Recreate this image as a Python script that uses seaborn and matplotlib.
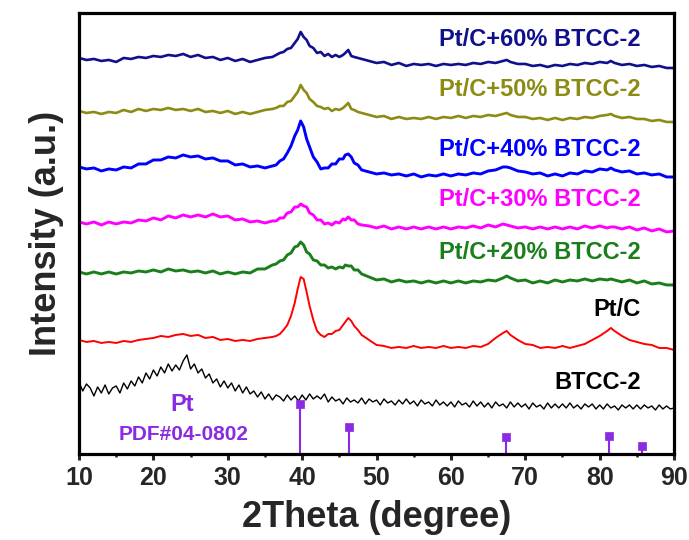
"""
XRD patterns of Pt/C catalysts with increasing BTCC-2 loading,
stacked with offsets, plus the Pt reference pattern (PDF#04-0802).
"""

import matplotlib
matplotlib.use("Agg")          # no display available
import matplotlib.pyplot as plt
from matplotlib.ticker import MultipleLocator
import seaborn as sns

# ── Style defaults ─────────────────────────────────────────────────────────────
sns.set_theme(style="ticks")
plt.rcParams["font.family"] = ["Liberation Sans", "DejaVu Sans"]
plt.rcParams["font.weight"] = "bold"

# ── Data (offset intensities, a.u.) ───────────────────────────────────────────
two_theta = [
    10, 11, 12, 13, 14, 15, 16, 17, 18, 19, 20, 21, 22, 23, 24, 25, 26, 27, 28, 29,
    30, 31, 32, 33, 34, 35, 36,
    36.5, 37, 37.5, 38, 38.5, 39, 39.4, 39.8, 40.2, 40.6, 41, 41.5, 42, 42.5, 43,
    43.5, 44, 44.5, 45, 45.5, 45.8, 46.2, 46.6, 47, 47.5, 48,
    49, 50, 51, 52, 53, 54, 55, 56, 57, 58, 59, 60, 61, 62, 63, 64, 65, 66, 67,
    67.5,
    68, 69, 70, 71, 72, 73, 74, 75, 76, 77, 78, 79, 80, 81,
    81.5,
    82, 83, 84, 85, 86, 87, 88, 89, 90,
]

pt_c_60 = [
    396, 394, 395, 393, 394, 392, 396, 395, 397, 396, 398, 397, 399, 398, 400, 397, 399, 396, 397, 394,
    396, 393, 395, 392, 394, 396, 397,
    399, 401, 402, 405, 406, 411, 415, 422, 417, 414, 408, 406, 401, 402, 398, 400, 397, 399, 397, 399,
    401, 404, 398, 397, 396, 395,
    393, 391, 392, 389, 391, 388, 390, 389, 390, 388, 390, 389, 390, 389, 391, 390, 392, 391, 393,
    394,
    392, 390, 390, 388, 389, 387, 389, 388, 390, 389, 391, 390, 392, 391,
    393,
    391, 389, 390, 388, 389, 387, 388, 386, 386,
]

pt_c_50 = [
    343, 341, 342, 340, 342, 341, 344, 342, 345, 343, 345, 344, 346, 344, 345, 343, 345, 342, 343, 341,
    343, 340, 342, 340, 342, 344, 345,
    346, 348, 348, 352, 353, 358, 362, 369, 364, 361, 355, 352, 348, 347, 345, 346, 343, 345, 344, 346,
    348, 351, 345, 344, 342, 341,
    339, 337, 338, 335, 337, 335, 336, 335, 337, 335, 337, 336, 338, 336, 338, 337, 339, 338, 340,
    341,
    339, 337, 337, 335, 336, 334, 336, 334, 336, 335, 337, 336, 338, 339,
    340,
    338, 336, 337, 335, 335, 333, 334, 332, 332,
]

pt_c_40 = [
    287, 285, 286, 283, 285, 284, 287, 286, 290, 290, 294, 294, 297, 296, 299, 297, 298, 295, 296, 293,
    293, 289, 290, 287, 288, 286, 288,
    289, 293, 295, 301, 308, 318, 324, 333, 327, 315, 307, 297, 292, 285, 286, 286, 290, 290, 295, 295,
    299, 300, 297, 291, 289, 284,
    282, 280, 281, 279, 280, 278, 280, 277, 279, 278, 280, 278, 280, 279, 281, 280, 283, 284, 287,
    287,
    286, 283, 282, 280, 281, 278, 280, 278, 281, 280, 283, 282, 285, 284,
    286,
    284, 282, 283, 280, 281, 279, 280, 277, 277,
]

pt_c_30 = [
    232, 230, 232, 229, 232, 230, 232, 231, 234, 233, 236, 234, 238, 236, 239, 237, 239, 237, 240, 237,
    238, 234, 235, 232, 233, 231, 233,
    233, 236, 236, 241, 242, 247, 247, 250, 248, 247, 241, 239, 234, 234, 230, 231, 229, 232, 231, 235,
    234, 237, 234, 234, 230, 229,
    228, 226, 228, 225, 227, 225, 227, 225, 227, 225, 227, 225, 227, 226, 228, 226, 229, 227, 230,
    229,
    228, 226, 227, 225, 227, 225, 227, 225, 227, 225, 228, 226, 228, 226,
    227,
    227, 225, 227, 224, 226, 223, 225, 222, 223,
]

pt_c_20 = [
    182, 180, 182, 180, 182, 180, 182, 181, 183, 182, 184, 182, 185, 183, 184, 182, 183, 181, 183, 180,
    182, 180, 182, 181, 185, 185, 189,
    190, 193, 194, 199, 201, 207, 208, 212, 209, 202, 200, 194, 193, 189, 189, 186, 187, 185, 187, 186,
    189, 188, 188, 184, 184, 180,
    177, 174, 175, 172, 174, 172, 173, 171, 173, 171, 173, 171, 173, 171, 173, 172, 174, 173, 176,
    178,
    176, 173, 174, 171, 173, 171, 174, 172, 174, 173, 175, 173, 175, 174,
    175,
    174, 172, 174, 171, 173, 170, 171, 169, 169,
]

pt_c = [
    114, 112, 113, 111, 112, 111, 113, 112, 114, 115, 116, 118, 117, 119, 120, 118, 119, 116, 117, 114,
    115, 113, 114, 113, 115, 116, 117,
    118, 120, 124, 129, 138, 151, 165, 177, 175, 162, 148, 134, 123, 119, 117, 120, 120, 123, 124, 129,
    132, 136, 133, 128, 124, 119,
    114, 109, 108, 106, 107, 106, 108, 106, 107, 106, 108, 106, 107, 106, 108, 107, 110, 116, 121,
    123,
    119, 114, 110, 109, 106, 107, 106, 108, 106, 108, 110, 114, 118, 123,
    126,
    123, 118, 114, 112, 110, 109, 106, 106, 104,
]

# BTCC-2 was scanned on a finer grid (noisier amorphous pattern)
btcc_theta = [
    10, 10.5, 11, 11.5, 12, 12.5, 13, 13.5, 14, 14.5,
    15, 15.5, 16, 16.5, 17, 17.5, 18, 18.5, 19, 19.5,
    20, 20.5, 21, 21.5, 22, 22.5, 23, 23.5, 24, 24.5,
    25, 25.5, 26, 26.5, 27, 27.5, 28, 28.5, 29, 29.5,
    30, 30.5, 31, 31.5, 32, 32.5, 33, 33.5, 34, 34.5,
    35, 35.5, 36, 36.5, 37, 37.5, 38, 38.5, 39, 39.5,
    40, 40.5, 41, 41.5, 42, 42.5, 43, 43.5, 44, 44.5,
    45, 45.5, 46, 46.5, 47, 47.5, 48, 48.5, 49, 49.5,
    50, 50.5, 51, 51.5, 52, 52.5, 53, 53.5, 54, 54.5,
    55, 55.5, 56, 56.5, 57, 57.5, 58, 58.5, 59, 59.5,
    60, 60.5, 61, 61.5, 62, 62.5, 63, 63.5, 64, 64.5,
    65, 65.5, 66, 66.5, 67, 67.5, 68, 68.5, 69, 69.5,
    70, 70.5, 71, 71.5, 72, 72.5, 73, 73.5, 74, 74.5,
    75, 75.5, 76, 76.5, 77, 77.5, 78, 78.5, 79, 79.5,
    80, 80.5, 81, 81.5, 82, 82.5, 83, 83.5, 84, 84.5,
    85, 85.5, 86, 86.5, 87, 87.5, 88, 88.5, 89, 89.5,
    90,
]

btcc_2 = [
    72, 63, 70, 66, 58, 67, 61, 69, 60, 66,
    68, 61, 71, 65, 73, 68, 77, 71, 81, 75,
    84, 78, 87, 81, 90, 83, 89, 84, 93, 99,
    85, 90, 81, 85, 76, 80, 71, 75, 67, 73,
    66, 71, 63, 69, 61, 67, 60, 63, 57, 62,
    55, 60, 54, 59, 57, 53, 59, 54, 58, 53,
    59, 54, 60, 55, 58, 55, 60, 52, 57, 53,
    55, 50, 56, 52, 54, 51, 56, 50, 55, 52,
    54, 49, 55, 51, 53, 49, 54, 50, 55, 50,
    53, 48, 54, 50, 52, 48, 54, 49, 52, 48,
    52, 47, 53, 49, 51, 47, 53, 48, 52, 47,
    51, 46, 52, 48, 50, 46, 52, 47, 51, 47,
    50, 45, 51, 47, 49, 45, 51, 46, 50, 46,
    50, 46, 51, 46, 49, 45, 50, 47, 50, 45,
    49, 45, 50, 46, 48, 44, 49, 46, 49, 45,
    49, 45, 49, 46, 48, 44, 49, 45, 48, 45,
    46,
]

# Pt reference, PDF#04-0802 (stick heights in plot units)
pdf_theta = [39.76, 46.24, 67.45, 81.29, 85.71]
pdf_height = [50, 27, 17, 18, 8]

PDF_COLOR = "#8a2be2"

# (label, x, y, colour, linewidth, label height)
series = [
    ("Pt/C+60% BTCC-2", two_theta, pt_c_60, "#10108c", 1.9, 414),
    ("Pt/C+50% BTCC-2", two_theta, pt_c_50, "#8c8c14", 1.9, 364),
    ("Pt/C+40% BTCC-2", two_theta, pt_c_40, "#0000ff", 2.1, 304),
    ("Pt/C+30% BTCC-2", two_theta, pt_c_30, "#ff00ff", 2.1, 254),
    ("Pt/C+20% BTCC-2", two_theta, pt_c_20, "#1a7f1a", 2.1, 201),
    ("Pt/C", two_theta, pt_c, "#ff0000", 1.4, 144),
    ("BTCC-2", btcc_theta, btcc_2, "#000000", 1.0, 71),
]

# ── Figure ─────────────────────────────────────────────────────────────────────
fig = plt.figure(figsize=(6.89, 5.40), dpi=100)
ax = fig.add_axes([0.1147, 0.1593, 0.8636, 0.8167])

for label, x, y, color, lw, label_y in series:
    sns.lineplot(x=x, y=y, color=color, linewidth=lw, estimator=None,
                 sort=False, ax=ax)
    text_color = "black" if label in ("Pt/C", "BTCC-2") else color
    ax.text(85.5, label_y, label, color=text_color, fontsize=17,
            fontweight="bold", ha="right", va="center")

# reference sticks with square caps
ax.vlines(pdf_theta, 0, pdf_height, color=PDF_COLOR, linewidth=1.5)
sns.scatterplot(x=pdf_theta, y=pdf_height, marker="s", s=38, color=PDF_COLOR,
                edgecolor=PDF_COLOR, linewidth=0.5, ax=ax, zorder=5)
ax.text(23.9, 49, "Pt", color=PDF_COLOR, fontsize=17, fontweight="bold",
        ha="center", va="center")
ax.text(24.0, 19, "PDF#04-0802", color=PDF_COLOR, fontsize=15,
        fontweight="bold", ha="center", va="center")

# ── Axes styling ───────────────────────────────────────────────────────────────
ax.set_xlim(10, 90)
ax.set_ylim(0, 441)
ax.set_yticks([])
ax.xaxis.set_major_locator(MultipleLocator(10))
ax.xaxis.set_minor_locator(MultipleLocator(5))
ax.tick_params(axis="x", which="major", direction="out", length=4, width=2.2,
               labelsize=18, pad=5, top=False)
ax.tick_params(axis="x", which="minor", direction="out", length=2.5, width=1.8,
               top=False)
for lab in ax.get_xticklabels():
    lab.set_fontweight("bold")
for spine in ax.spines.values():
    spine.set_linewidth(2.3)
    spine.set_color("black")

ax.set_xlabel("2Theta (degree)", fontsize=26, fontweight="bold", labelpad=7)
ax.set_ylabel("Intensity (a.u.)", fontsize=26, fontweight="bold", labelpad=11)

fig.savefig("out.png", dpi=100)
plt.close(fig)
